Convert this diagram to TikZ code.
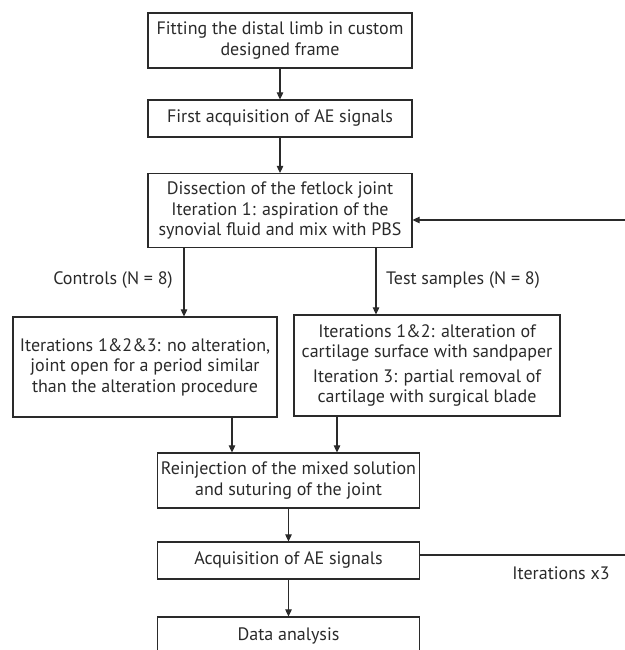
\documentclass[tikz,border=0pt]{standalone}
\usepackage{fontspec}
\setmainfont{PT Sans}
\usetikzlibrary{arrows.meta}
\definecolor{ink}{HTML}{2A2A2A}
\tikzset{
  box/.style={draw=ink, line width=1.2pt, rectangle, align=center, inner sep=0pt,
    text=ink, font=\fontsize{18}{20.5}\selectfont},
  lbl/.style={text=ink, font=\fontsize{18}{20.5}\selectfont, inner sep=0pt},
  arr/.style={draw=ink, line width=1.1pt, -{Triangle[length=7pt,width=6.5pt]}},
  ln/.style={draw=ink, line width=1.1pt}
}
\begin{document}
\begin{tikzpicture}[x=1pt,y=-1pt]
\useasboundingbox (0,0) rectangle (624,650);
\node[box, minimum width=264pt, minimum height=55pt] (fit) at (280,40.5) {Fitting the distal limb in custom\\designed frame};
\node[box, minimum width=264pt, minimum height=37pt] (first) at (280,118.5) {First acquisition of AE signals};
\node[box, minimum width=264pt, minimum height=74pt] (diss) at (280,210.5) {Dissection of the fetlock joint\\Iteration 1: aspiration of the\\synovial fluid and mix with PBS};
\node[box, minimum width=264pt, minimum height=100pt] (ctrl) at (145,367) {Iterations 1\&2\&3: no alteration,\\joint open for a period similar\\than the alteration procedure};
\node[box, minimum width=266pt, minimum height=101pt] (test) at (427,365.5) {Iterations 1\&2: alteration of\\cartilage surface with sandpaper\\[4pt]Iteration 3: partial removal of\\cartilage with surgical blade};
\node[box, minimum width=262pt, minimum height=55pt] (rein) at (288.5,480.5) {Reinjection of the mixed solution\\and suturing of the joint};
\node[box, minimum width=262pt, minimum height=37pt] (acq) at (288.5,560.5) {Acquisition of AE signals};
\node[box, minimum width=262pt, minimum height=38pt] (data) at (288.5,636) {Data analysis};
\node[lbl] (lc) at (113,280) {Controls (N = 8)};
\node[lbl] (lt) at (463,280) {Test samples (N = 8)};
\node[lbl] (lit) at (561,573) {Iterations x3};
\draw[arr] (fit) -- (first);
\draw[arr] (first) -- (diss);
\draw[arr] (diss.south -| 184,0) -- (ctrl.north -| 184,0);
\draw[arr] (diss.south -| 376,0) -- (test.north -| 376,0);
\draw[arr] (ctrl.south -| 232,0) -- (rein.north -| 232,0);
\draw[arr] (test.south -| 337,0) -- (rein.north -| 337,0);
\draw[arr] (rein) -- (acq);
\draw[arr] (acq) -- (data);
\coordinate (r1) at (628,555);
\coordinate (r2) at (628,220);
\draw[ln] (acq.east |- r1) -- (r1) -- (r2);
\draw[arr] (r2) -- (diss.east |- r2);
\end{tikzpicture}
\end{document}
